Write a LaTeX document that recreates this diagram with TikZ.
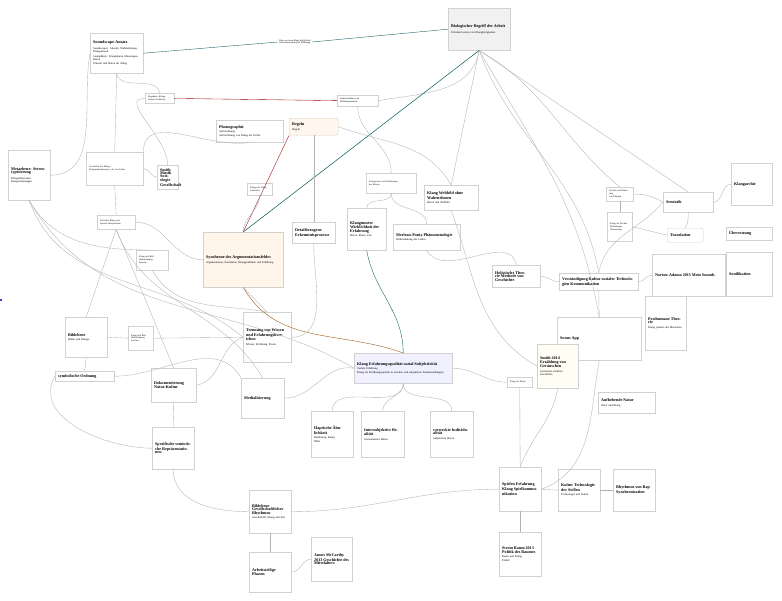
\documentclass[tikz,border=0pt]{standalone}
\usepackage{fontspec}
\setmainfont{Liberation Serif}
\tikzset{
 box/.style={draw=black!18,fill=white,inner sep=3pt,align=left,font=\fontsize{2.8}{3.4}\selectfont,anchor=north west},
 sbox/.style={box,font=\fontsize{2.3}{2.8}\selectfont},
 ln/.style={draw=black!30,line width=0.35pt},
}
\newcommand\ttl{\fontsize{4.1}{4.8}\selectfont\bfseries}
\newcommand\bx[7]{\node[box,#6,text width=#4-6,minimum height=#5] (#1) at (#2,#3) {#7};}
\begin{document}
\begin{tikzpicture}[x=1pt,y=-1pt]
\useasboundingbox (0,0) rectangle (782,600);
\fill[white] (0,0) rectangle (782,600);
% nodes
\bx{snd}{90}{33}{53}{40}{}{{\ttl Soundscape-Ansatz}\\[2pt] Soundscapes: Akustik, Wahrnehmung, Klangumwelt\\[1pt] Lautsphären: Klangräume, Messungen, Hören\\[1pt] Umwelt und Hören im Alltag}
\bx{bio}{448}{8}{62}{42}{fill=green!6!black!6}{{\ttl Biologischer Begriff der Arbeit}\\[2pt] Erlernen/Lernen von Klangfertigkeiten}
\bx{hag}{145}{93}{29}{10}{sbox}{Hagebutte, Klänge\\Soziale Geräusche}
\bx{sel}{337}{95}{41}{10}{sbox}{Selbstverhältnis und\\Erklärungsmodelle}
\bx{pho}{216}{120}{67}{22}{}{{\ttl Phonographie}\\[1pt] Aufzeichnung\\ Aufzeichnung von Klang als Archiv}
\bx{reg}{289}{118}{49}{17}{fill=orange!7,rounded corners=2pt}{{\ttl Regeln}\\[1pt] Regeln}
\bx{meta}{8}{150}{42}{50}{}{{\ttl Metaebene: Stereotypisierung}\\[2pt] Klangreflexionen\\ Kategorisierungen}
\bx{ges}{86}{152}{57}{33}{sbox}{Geschichte der Klänge\\Klangwahrnehmung in der Geschichte}
\bx{smm}{157}{165}{21}{22}{}{{\ttl Smith Musik Soziologie Gesellschaft}}
\bx{sm1}{247}{183}{25}{12}{sbox}{Klänge im Alltag\\Geräusche}
\bx{kar}{366}{173}{50}{20}{sbox}{Klangarchive und Erfahrungen\\des Hörens}
\bx{kwb}{424}{185}{54}{25}{}{{\ttl Klang Weltbild ohne Wahrnehmen}\\[1pt] Hören und Weltbild}
\bx{syn}{203}{232}{80}{55}{fill=orange!8}{{\ttl Synchrone des Argumentationsfeldes}\\[2pt] Argumentation, Interaktion, Klangpraktiken und Erfahrung}
\bx{det}{292}{222}{43}{21}{}{{\ttl Detailbezogene Erkenntnisprozesse}}
\bx{kmu}{347}{208}{39}{42}{}{{\ttl Klangmuster Wirklichkeit der Erfahrung}\\[1pt] Hören, Raum, Zeit}
\bx{mer}{393}{224}{67}{26}{}{{\ttl Merleau-Ponty Phänomenologie}\\[1pt] Wahrnehmung des Leibes}
\bx{kar2}{731}{163}{41}{42}{}{{\ttl Klangarchiv}}
\bx{sem}{663}{192}{50}{20}{}{{\ttl Semiotik}}
\bx{s1}{606}{187}{27}{12}{sbox}{Zeichen und Bedeutung\\von Klängen}
\bx{s2}{607}{212}{25}{29}{sbox}{Klang als Zeichen\\Bedeutungen\\Übersetzung}
\bx{tra}{667}{228}{36}{14}{rounded corners=2pt}{{\ttl Translation}}
\bx{ueb}{726}{227}{46}{13}{}{{\ttl Übersetzung}}
\bx{hol}{492}{265}{48}{22}{}{{\ttl Holistische Theorie Methode von Geschichte}}
\bx{ver}{559}{273}{79}{17}{}{{\ttl Verständigung Kultur sozialer Technologien Kommunikation}}
\bx{nor}{652}{254}{73}{42}{}{{\ttl Norton-Adamo 2015 Mein Sounds}}
\bx{son}{726}{252}{46}{44}{}{{\ttl Sonifikation}}
\bx{pos}{645}{296}{41}{54}{}{{\ttl Posthumane Theorie}\\[1pt] Klang jenseits des Menschen}
\bx{sap}{557}{317}{84}{43}{}{{\ttl Sonus App}}
\bx{bil}{65}{317}{42}{40}{}{{\ttl Bildebene}\\[1pt] Bilder und Klänge}
\bx{sb2}{128}{326}{25}{24}{sbox}{Klang und Bild\\Wahrnehmung\\Zeichen}
\bx{tre}{243}{312}{48}{50}{}{{\ttl Trennung von Wissen und Erfahrungsbereichen}\\[1pt] Wissen, Erfahrung, Praxis}
\bx{kes}{354}{353}{98}{30}{fill=blue!6}{{\ttl Klang Erfahrungsqualität sozial Subjektivität}\\[1pt] Soziale Erfahrung\\ Klang als Erfahrungsqualität in sozialen und subjektiven Zusammenhängen}
\bx{smi}{537}{344}{41}{44}{fill=yellow!4}{{\ttl Smith 2014 Erzählung von Geräuschen}\\[1pt] Geräusche erzählen Geschichte}
\bx{sym}{55}{371}{59}{10}{}{{\ttl symbolische Ordnung}}
\bx{dok}{151}{368}{45}{34}{}{{\ttl Dokumentierung Natur-Kultur}}
\bx{med}{241}{378}{43}{40}{}{{\ttl Medialisierung}}
\bx{sb3}{507}{377}{25}{10}{sbox}{Klang als Praxis}
\bx{auf}{598}{392}{57}{21}{}{{\ttl Aufhebende Natur}\\[1pt] Natur und Klang}
\bx{hap}{311}{411}{42}{46}{}{{\ttl Haptische Ähnlichkeit}\\[1pt] Berührung, Klang\\ Nähe}
\bx{int}{361}{411}{43}{46}{}{{\ttl Intersubjektive Realität}\\[1pt] Gemeinsames Hören}
\bx{ind}{430}{411}{43}{46}{}{{\ttl versteckte Individualität}\\[1pt] Subjektives Hören}
\bx{spr}{152}{427}{42}{42}{}{{\ttl Spezifische semiotische Repräsentationen}}
\bx{spi}{499}{467}{42}{44}{}{{\ttl Spielen Erfahrung Klang Spielkommunikation}}
\bx{kte}{558}{469}{42}{42}{}{{\ttl Kultur Technologie der Stellen}\\[1pt] Technologie und Kultur}
\bx{rhy}{613}{469}{42}{42}{}{{\ttl Rhythmus von Rap Synchronisation}}
\bx{bge}{249}{490}{42}{43}{}{{\ttl Bildebene Gesellschaftlicher Rhythmus}\\[1pt] Gesellschaft, Klang und Zeit}
\bx{arb}{249}{552}{42}{40}{}{{\ttl Arbeitsteilige Phasen}}
\bx{jam}{311}{537}{41}{44}{}{{\ttl James McCarthy 2013 Geschichte des Mittelalters}}
\bx{str}{499}{532}{42}{44}{}{{\ttl Strom Raum 2013 Politik des Raumes}\\[1pt] Raum und Klang\\ Politik}
\bx{sb1}{97}{215}{38}{14}{sbox}{Zwischen Klang und\\Sprache Interpretation}
\bx{sb0}{136}{250}{32}{20}{sbox}{Klang und Bild\\Wahrnehmung\\Sprache}
\node[font=\fontsize{2.3}{2.8}\selectfont,align=left,fill=white,inner sep=1pt] (lab1) at (295,42) {Was von einem Klang übrig bleibt\\im Zusammenhang der Erfahrung};
\node[circle,fill=blue!70!black,inner sep=0.8pt] (dot) at (1,300) {};
% connectors
\draw[ln,draw=teal!70!black] (snd.east) -- (lab1.west);
\draw[ln,draw=teal!70!black] (lab1.east) -- (bio.west);
\draw[ln,draw=red!60!black] (hag.east) -- (sel.west);
\draw[ln] (sel.east) to[out=10,in=-100] (bio.south);
\draw[ln,draw=teal!70!black,line width=0.5pt] (bio.south) to (syn.north);
\draw[ln,draw=red!60!black] (reg.south west) -- (syn.north);
\draw[ln] (bio.south) -- (kwb.north);
\draw[ln] (bio.south) -- (sem.north);
\draw[ln] (bio.south) to[out=-70,in=100] (ver.north);
\draw[ln] (bio.south) to[out=-60,in=100] (sap.north);
\draw[ln] (bio.south) to[out=-30,in=140] (s1.north);
\draw[ln,draw=orange!60!black] (syn.south) to[out=-60,in=160] (kes.north);
\draw[ln,draw=teal!70!black] (kmu.south) to[out=-80,in=90] (kes.north);
\draw[ln] (snd.south) to[out=-80,in=100] (hag.north);
\draw[ln] (snd.west) to[out=-100,in=0] (meta.east);
\draw[ln] (snd.south) -- (ges.north);
\draw[ln] (hag.west) to[out=180,in=90] (smm.north);
\draw[ln] (ges.east) to[out=0,in=180] (smm.west);
\draw[ln] (pho.south) to[out=-170,in=90] (ges.north east);
\draw[ln] (reg.east) to[out=-20,in=120] (kwb.north);
\draw[ln] (reg.south) -- (det.north);
\draw[ln] (sel.south) to[out=-90,in=90] (kar.north);
\draw[ln] (kar.south) to[out=-90,in=90] (kmu.north);
\draw[ln] (kar.south) to[out=-90,in=90] (mer.north);
\draw[ln] (sm1.south) to[out=-90,in=90] (syn.north);
\draw[ln] (ges.south) -- (sb1.north);
\draw[ln] (sb1.south) -- (bil.north);
\draw[ln] (sb1.south) -- (dok.north);
\draw[ln] (sb1.south) to[out=-70,in=120] (med.north);
\draw[ln] (sb1.east) to[out=0,in=180] (syn.west);
\draw[ln] (meta.south) to[out=-60,in=180] (sb0.north);
\draw[ln] (meta.south) to[out=-70,in=140] (tre.west);
\draw[ln] (sb0.south) to[out=-60,in=170] (tre.north);
\draw[ln] (syn.south) -- (tre.north);
\draw[ln] (det.south) to[out=-90,in=0] (tre.east);
\draw[ln] (bil.east) -- (sb2.west);
\draw[ln] (sb2.east) -- (tre.west);
\draw[ln] (bil.south) -- (sym.north);
\draw[ln] (sym.west) to[out=-120,in=180] (spr.west);
\draw[ln] (sym.east) to[out=0,in=120] (med.north west);
\draw[ln] (dok.east) to[out=10,in=-160] (tre.west);
\draw[ln] (dok.south) to[out=-90,in=90] (spr.north);
\draw[ln] (med.east) to[out=0,in=170] (kes.west);
\draw[ln] (spr.south) to[out=-90,in=180] (bge.west);
\draw[ln] (bge.south) -- (arb.north);
\draw[ln] (arb.east) to[out=0,in=180] (jam.west);
\draw[ln] (bge.east) to[out=0,in=180] (spi.west);
\draw[ln] (kes.south) to[out=-90,in=90] (hap.north);
\draw[ln] (kes.south) to[out=-90,in=90] (int.north);
\draw[ln] (kes.south) to[out=-90,in=90] (ind.north);
\draw[ln] (kes.east) to[out=0,in=180] (sb3.west);
\draw[ln] (sb3.south) -- (spi.north);
\draw[ln] (smi.south) to[out=-100,in=70] (spi.north);
\draw[ln] (sap.south) to[out=-100,in=20] (spi.east);
\draw[ln] (spi.east) -- (kte.west);
\draw[ln] (kte.east) -- (rhy.west);
\draw[ln] (spi.south) -- (str.north);
\draw[ln] (kwb.south) to[out=-70,in=150] (smi.west);
\draw[ln] (mer.south) to[out=-60,in=100] (hol.north);
\draw[ln] (hol.east) to[out=0,in=180] (ver.west);
\draw[ln] (ver.east) to[out=0,in=180] (nor.west);
\draw[ln] (ver.south) -- (sap.north);
\draw[ln] (ver.north) to[out=80,in=-130] (sem.west);
\draw[ln] (s1.east) to[out=0,in=150] (sem.west);
\draw[ln] (s2.east) -- (tra.west);
\draw[ln] (sem.south) to[out=-90,in=60] (tra.north);
\draw[ln] (sem.east) to[out=0,in=180] (kar2.west);
\draw[ln] (s1.south) -- (s2.north);
\draw[ln] (meta.south) to[out=-60,in=150] (kes.west);
\end{tikzpicture}
\end{document}
